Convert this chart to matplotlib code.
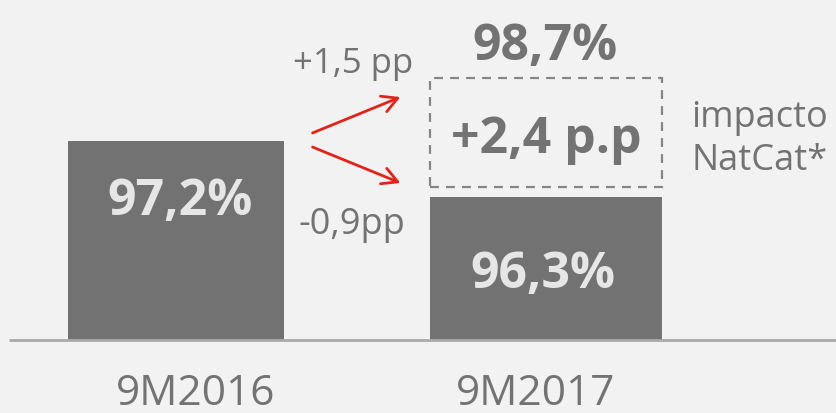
import matplotlib
matplotlib.use("Agg")
import matplotlib.pyplot as plt
from matplotlib.patches import Rectangle, FancyArrowPatch

plt.rcParams['font.family'] = ['Open Sans', 'DejaVu Sans']

# ---- data ----
categories = ["9M2016", "9M2017"]
values = [97.2, 96.3]
value_labels = ["97,2%", "96,3%"]
natcat_impact = 2.4
total_label = "98,7%"
impact_label = "+2,4 p.p"
up_label = "+1,5 pp"
down_label = "-0,9pp"
side_label = "impacto\nNatCat*"
baseline = 94.0

# ---- style ----
W, H = 836, 414
BG = "#f2f2f2"
BAR = "#727272"
TXT = "#737373"
LIGHT = "#e6e6e6"
RED = "#e2231a"

fig = plt.figure(figsize=(W / 100, H / 100), dpi=100, facecolor=BG)
ax = fig.add_axes([0, 0, 1, 1])
ax.set_facecolor(BG)
ax.set_xlim(-176 / 370, (W - 176) / 370)
ppu = 62.22
ax.set_ylim(baseline - (H - 341) / ppu, baseline + 341 / ppu)
ax.axis("off")

def P(x, y):
    return (x / W, 1 - y / H)

widths = [216 / 370, 232 / 370]
xs = [0, 1]
ax.bar(xs, [v - baseline for v in values], bottom=baseline, width=widths,
       color=BAR, zorder=2)

# baseline
ax.plot([-167 / 370, (W - 176) / 370], [baseline, baseline], color="#aaaaaa",
        lw=2, zorder=3, solid_capstyle="butt")

# dashed box for NatCat impact
box_bottom = baseline + (341 - 188) / ppu
box_top = baseline + (341 - 79) / ppu
rect = Rectangle((1 - widths[1] / 2, box_bottom), widths[1], box_top - box_bottom,
                 fill=False, ec="#858585", lw=1.6, ls=(0, (4, 3.2)), zorder=3)
ax.add_patch(rect)

# value labels in bars
ax.text(*P(180, 215), value_labels[0], transform=ax.transAxes, ha="center",
        va="baseline", fontsize=36, fontweight="bold", color=LIGHT)
ax.text(*P(543, 288), value_labels[1], transform=ax.transAxes, ha="center",
        va="baseline", fontsize=36, fontweight="bold", color=LIGHT)
ax.text(*P(545, 60), total_label, transform=ax.transAxes, ha="center",
        va="baseline", fontsize=36, fontweight="bold", color=TXT)
ax.text(*P(546, 153), impact_label, transform=ax.transAxes, ha="center",
        va="baseline", fontsize=36, fontweight="bold", color=TXT)

# category labels
ax.text(*P(196, 405), categories[0], transform=ax.transAxes, ha="center",
        va="baseline", fontsize=30.5, color=TXT)
ax.text(*P(536, 405), categories[1], transform=ax.transAxes, ha="center",
        va="baseline", fontsize=30.5, color=TXT)

# arrows labels
ax.text(*P(353, 73), up_label, transform=ax.transAxes, ha="center",
        va="baseline", fontsize=25, color=TXT)
ax.text(*P(352, 234), down_label, transform=ax.transAxes, ha="center",
        va="baseline", fontsize=26, color=TXT)
ax.text(*P(760, 127), side_label.split("\n")[0], transform=ax.transAxes,
        ha="center", va="baseline", fontsize=26, color=TXT)
ax.text(*P(760, 170), side_label.split("\n")[1], transform=ax.transAxes,
        ha="center", va="baseline", fontsize=26, color=TXT)

for (x0, y0, x1, y1) in [(310, 135, 403, 97), (310, 147, 403, 185)]:
    a = FancyArrowPatch(P(x0, y0), P(x1, y1), transform=ax.transAxes,
                        arrowstyle="->,head_length=11,head_width=6",
                        color=RED, lw=2, mutation_scale=1, zorder=4)
    ax.add_patch(a)

fig.savefig("out.png", dpi=100, facecolor=BG)
